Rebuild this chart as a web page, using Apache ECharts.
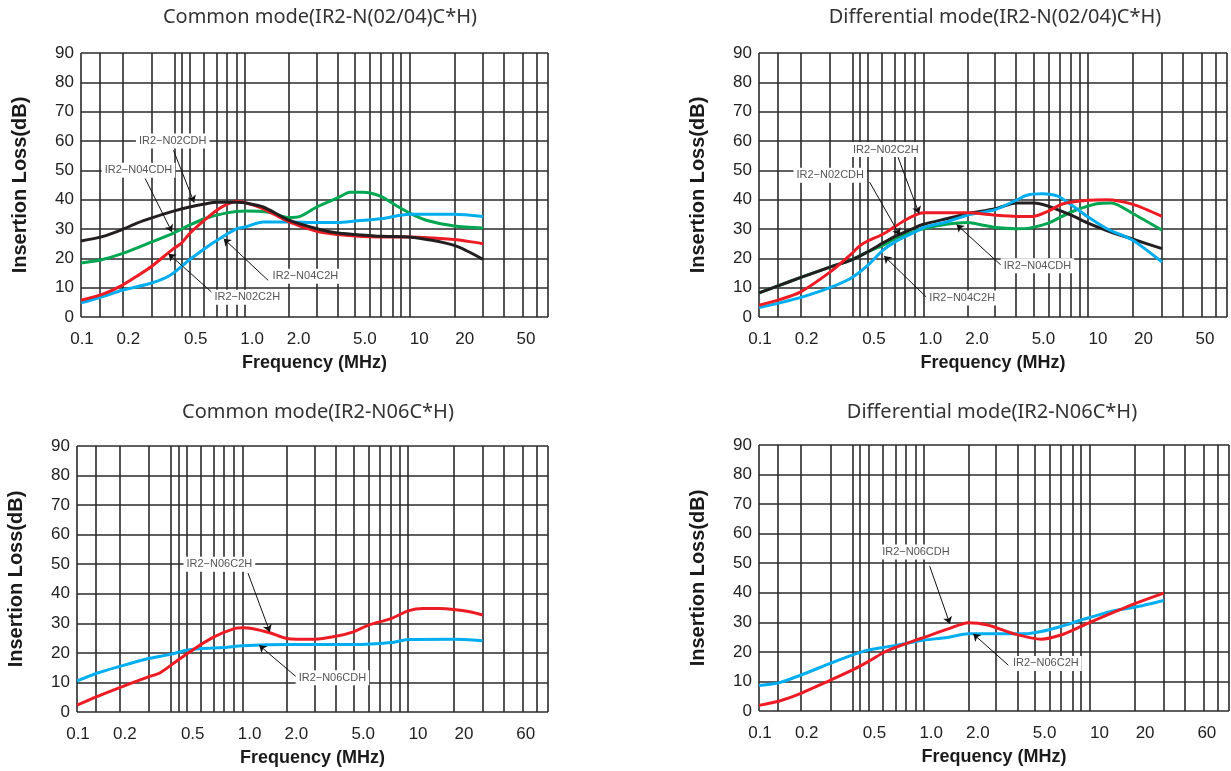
<!DOCTYPE html>
<html><head><meta charset="utf-8">
<script src="https://cdn.jsdelivr.net/npm/echarts@6/dist/echarts.min.js"></script>
<style>html,body{margin:0;padding:0;background:#fff}#c{width:1231px;height:771px}</style>
</head><body><div id="c"></div>
<script>
// ---------- data ----------
// frequencies (MHz) of the vertical grid lines as they sit in the picture
const GRID_FREQ = [0.1,0.133,0.178,0.27,0.366,0.406,0.458,0.565,0.672,0.773,0.89,1.0,1.85,2.73,3.66,4.67,5.76,6.72,7.9,8.9,10,18.8,28.2,37.8,49.3,59.5,70];
const TICK_FREQ = [0.1,0.2,0.5,1,2,5,10,20,50];
const TICK_LABELS_TOP = ['0.1','0.2','0.5','1.0','2.0','5.0','10','20','50'];
const TICK_LABELS_BOTTOM = ['0.1','0.2','0.5','1.0','2.0','5.0','10','20','60'];

// Common mode IR2-N(02/04)C*H  [MHz, dB]
const CM1_N02CDH = [[0.1,25.9],[0.133,27.3],[0.178,29.8],[0.219,32],[0.27,33.8],[0.366,36.1],[0.458,37.5],[0.565,38.5],[0.672,39.1],[0.89,39.1],[1.0,38.9],[1.29,37.5],[1.85,33],[2.73,30.1],[3.66,28.6],[4.67,28.1],[6.72,27.5],[10,27.3],[18.8,24.4],[28.2,19.6]];
const CM1_N02C2H = [[0.1,5.7],[0.133,7.6],[0.178,10.8],[0.219,13.9],[0.27,17.3],[0.366,23.3],[0.406,25],[0.458,28.4],[0.565,33],[0.672,36.4],[0.773,38.4],[0.89,39.5],[1.0,39],[1.29,36.9],[1.85,32.4],[2.73,29.2],[3.66,28.1],[4.67,27.6],[6.72,27.3],[10,27.3],[18.8,26.4],[28.2,25]];
const CM1_N04CDH = [[0.1,18.4],[0.133,19.5],[0.178,21.6],[0.27,25.6],[0.366,28.6],[0.458,31.3],[0.565,33.5],[0.773,35.5],[1.0,36.1],[1.42,35.6],[1.85,33.9],[2.16,34.3],[2.73,37.5],[3.66,40.6],[4.35,42.5],[5.24,42.5],[6.72,41.1],[7.98,38.6],[10,35.5],[12.7,33],[18.8,31],[28.2,30.3]];
const CM1_N04C2H = [[0.1,4.8],[0.133,6.8],[0.178,9.1],[0.27,11.6],[0.349,14.2],[0.458,19.5],[0.565,23.3],[0.672,26.1],[0.89,30.1],[1.0,30.7],[1.29,32.4],[1.85,32.4],[2.73,32.2],[3.66,32.2],[4.67,32.7],[6.72,33.5],[10,35],[18.8,35],[28.2,34.3]];

// Differential mode IR2-N(02/04)C*H
const DM1_N02CDH = [[0.1,8.2],[0.133,10.8],[0.178,13.4],[0.27,17],[0.366,19.5],[0.458,22.2],[0.565,25.2],[0.672,27.5],[0.89,30.5],[1.0,31.6],[1.38,33.5],[1.85,35.2],[2.73,36.9],[3.66,38.9],[4.67,38.9],[5.74,37.8],[7.9,34.7],[10,32],[13,29.5],[18.8,26.5],[28.2,23.3]];
const DM1_N02C2H = [[0.1,4],[0.133,5.9],[0.178,8.5],[0.27,15.3],[0.366,21.6],[0.406,24.1],[0.458,25.9],[0.565,28.2],[0.672,30.9],[0.773,33],[0.89,34.7],[1.0,35.5],[1.85,35.5],[2.73,34.7],[3.66,34.3],[4.67,34.3],[5.74,36.1],[7.07,38.6],[10,39.8],[13,40],[18.8,38.4],[28.2,34.3]];
const DM1_N04CDH = [[0.1,8.2],[0.133,10.8],[0.178,13.4],[0.27,17],[0.366,19.5],[0.458,22.2],[0.565,24.4],[0.672,26.7],[0.89,29.3],[1.0,30.1],[1.38,31.6],[1.85,32.2],[2.31,31.3],[2.73,30.5],[3.66,30.1],[4.4,30.3],[5.74,32],[7.9,35.8],[11.3,38.6],[13.9,38.9],[18.8,35.2],[28.2,29.6]];
const DM1_N04C2H = [[0.1,3.2],[0.133,4.8],[0.178,6.6],[0.27,10],[0.366,13.4],[0.458,17.6],[0.565,22.7],[0.672,25.6],[0.89,29],[1.0,30.5],[1.38,32.4],[1.85,34.7],[2.73,36.6],[3.66,39.8],[4.24,41.5],[5.23,42],[6.6,41.1],[8.53,36.9],[10,34.1],[13,30.1],[18.8,26.1],[28.2,18.75]];

// Common mode IR2-N06C*H
const CM2_N06C2H = [[0.1,2.3],[0.133,5.3],[0.178,8.1],[0.27,11.9],[0.316,13.2],[0.406,17.5],[0.502,21.1],[0.672,25.4],[0.89,28.2],[1.0,28.5],[1.16,28.2],[1.46,26.8],[1.85,24.9],[2.73,24.6],[3.66,25.6],[4.67,27.1],[5.76,29.4],[7.9,31.6],[10,34.2],[12.3,35],[15.5,35],[18.8,34.7],[23.6,33.9],[28.2,32.8]];
const CM2_N06CDH = [[0.1,10.5],[0.133,13.2],[0.178,15.3],[0.27,18.1],[0.366,19.5],[0.458,20.9],[0.565,21.5],[0.773,21.8],[1.0,22.4],[1.85,22.8],[4.67,22.8],[7.9,23.5],[10,24.5],[18.8,24.6],[28.2,24.1]];

// Differential mode IR2-N06C*H
const DM2_RED  = [[0.1,1.9],[0.133,3.4],[0.178,5.9],[0.27,10.4],[0.366,13.8],[0.458,16.7],[0.565,19.7],[0.672,21.5],[0.89,24],[1.0,24.9],[1.38,27.7],[1.85,29.9],[2.42,29.1],[3.51,26.1],[5.1,24.3],[6.72,25.7],[8.9,28.6],[10,29.9],[18.8,36.3],[28.2,39.9]];
const DM2_BLUE = [[0.1,8.6],[0.133,9.6],[0.178,12.1],[0.27,16.1],[0.366,18.9],[0.458,20.6],[0.565,21.5],[0.672,22.2],[0.89,23.5],[1.0,24],[1.38,24.9],[1.85,26.1],[2.73,26.1],[4.04,26.1],[5.1,26.9],[6.72,28.6],[8.9,30.8],[10,31.6],[14.3,34],[18.8,35.1],[28.2,37.4]];

// ---------- layout & style ----------
const BLACK='#231f20', RED='#ed1c24', GREEN='#00a651', BLUE='#00aeef', GRIDC='#2a2a2a';
const FONT='"Liberation Sans", Arial, sans-serif';
const TICK_DX = [1,-2,0,7,4,5,10,6,2];

const PANELS = [
  {grid:{left:81,top:53,width:467,height:264}, title:'Common mode(IR2-N(02/04)C*H)', tx:320, ty:19, ticks:TICK_LABELS_TOP,
   curves:[{d:CM1_N04CDH,c:GREEN},{d:CM1_N04C2H,c:BLUE},{d:CM1_N02C2H,c:RED},{d:CM1_N02CDH,c:BLACK}],
   notes:[{t:'IR2−N02CDH',at:[0.362,60],from:[0.366,56.8],to:[0.489,39]},
          {t:'IR2−N04CDH',at:[0.224,50],from:[0.246,47.2],to:[0.358,29]},
          {t:'IR2−N02C2H',at:[1.03,6.7],from:[0.63,8.3],to:[0.341,21.6]},
          {t:'IR2−N04C2H',at:[2.33,13.9],from:[1.38,12.5],to:[0.74,26.7]}]},
  {grid:{left:759,top:53,width:468,height:264}, title:'Differential mode(IR2-N(02/04)C*H)', tx:995, ty:19, ticks:TICK_LABELS_TOP,
   curves:[{d:DM1_N04CDH,c:GREEN},{d:DM1_N02CDH,c:BLACK},{d:DM1_N04C2H,c:BLUE},{d:DM1_N02C2H,c:RED}],
   notes:[{t:'IR2−N02C2H',at:[0.59,57.1],from:[0.7,54.5],to:[0.94,35.3]},
          {t:'IR2−N02CDH',at:[0.271,48.3],from:[0.47,46],to:[0.718,27.9]},
          {t:'IR2−N04CDH',at:[4.93,17.5],from:[2.97,17.6],to:[1.59,31.5]},
          {t:'IR2−N04C2H',at:[1.72,6.5],from:[1.04,6.8],to:[0.576,20.8]}]},
  {grid:{left:77,top:446,width:471,height:266}, title:'Common mode(IR2-N06C*H)', tx:318, ty:414, ticks:TICK_LABELS_BOTTOM,
   curves:[{d:CM2_N06CDH,c:BLUE},{d:CM2_N06C2H,c:RED}],
   notes:[{t:'IR2−N06C2H',at:[0.724,50],from:[1.08,46.9],to:[1.46,27.1]},
          {t:'IR2−N06CDH',at:[3.49,11.6],from:[2.13,11.7],to:[1.26,22.6]}]},
  {grid:{left:759,top:445,width:470,height:266}, title:'Differential mode(IR2-N06C*H)', tx:992, ty:414, ticks:TICK_LABELS_BOTTOM,
   curves:[{d:DM2_BLUE,c:BLUE},{d:DM2_RED,c:RED}],
   notes:[{t:'IR2−N06CDH',at:[0.891,53.8],from:[1.08,49],to:[1.43,29.5]},
          {t:'IR2−N06C2H',at:[5.45,16.1],from:[3.23,15.5],to:[1.98,26.1]}]}
];

const grids=[], xAxes=[], yAxes=[], series=[], titles=[];
PANELS.forEach((p,i)=>{
  grids.push(Object.assign({containLabel:false, outerBoundsMode:'none'}, p.grid));
  titles.push({text:p.title, left:p.tx, top:p.ty-12, textAlign:'center', padding:0,
    textStyle:{fontSize:20, fontWeight:'normal', color:'#333', fontFamily:'"Noto Sans", sans-serif'}});
  xAxes.push({type:'log', logBase:10, gridIndex:i, min:0.1, max:70,
    axisLine:{show:false}, axisTick:{show:false}, axisLabel:{show:false}, splitLine:{show:false},
    minorTick:{show:false}, minorSplitLine:{show:false},
    name:'Frequency (MHz)', nameLocation:'middle', nameGap:37,
    nameTextStyle:{fontWeight:'bold', fontSize:18, color:'#1a1a1a', fontFamily:FONT}});
  yAxes.push({type:'value', gridIndex:i, min:0, max:90, interval:10,
    axisLine:{show:false}, axisTick:{show:false},
    axisLabel:{fontSize:17, color:'#222', margin:7, fontFamily:FONT},
    splitLine:{show:true, lineStyle:{color:GRIDC, width:1.6}},
    name:'Insertion Loss(dB)', nameLocation:'middle', nameGap:51,
    nameTextStyle:{fontWeight:'bold', fontSize:20, color:'#1a1a1a', fontFamily:FONT}});
  // vertical grid lines
  series.push({type:'line', xAxisIndex:i, yAxisIndex:i, data:[], silent:true, animation:false,
    markLine:{silent:true, z:1, animation:false, symbol:['none','none'], label:{show:false},
      lineStyle:{color:GRIDC, width:1.6, type:'solid'}, emphasis:{disabled:true},
      data:GRID_FREQ.map(v=>({xAxis:v}))}});
  // curves
  p.curves.forEach(c=>series.push({type:'line', xAxisIndex:i, yAxisIndex:i, data:c.d, smooth:0.25,
    showSymbol:false, symbol:'none', z:3, animation:false, silent:true,
    lineStyle:{color:c.c, width:3}, itemStyle:{color:c.c}}));
  // annotations + tick labels
  const mp = p.notes.map(n=>({coord:n.at, label:{formatter:n.t, backgroundColor:'#fff', padding:[2,3],
      fontSize:11, color:'#555', fontFamily:FONT}}))
    .concat(TICK_FREQ.map((v,k)=>({coord:[v,0], label:{formatter:p.ticks[k], offset:[TICK_DX[k],22],
      fontSize:17, color:'#222', fontFamily:FONT}})));
  series.push({type:'line', xAxisIndex:i, yAxisIndex:i, data:[], silent:true, animation:false,
    markLine:{silent:true, z:6, animation:false, symbol:['none','arrow'], symbolSize:7, label:{show:false},
      lineStyle:{color:'#111', width:1, type:'solid'}, emphasis:{disabled:true},
      data:p.notes.map(n=>[{coord:n.from},{coord:n.to}])},
    markPoint:{silent:true, z:7, animation:false, symbol:'rect', symbolSize:1,
      itemStyle:{color:'rgba(0,0,0,0)'}, label:{show:true, position:'inside'}, data:mp}});
});

const chart = echarts.init(document.getElementById('c'), null, {renderer:'canvas'});
chart.setOption({backgroundColor:'#fff', animation:false, title:titles, grid:grids, xAxis:xAxes, yAxis:yAxes, series:series});
</script></body></html>
